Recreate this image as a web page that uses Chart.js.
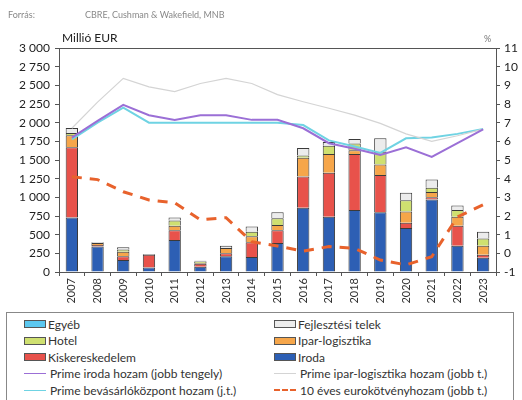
<!DOCTYPE html>
<html lang="hu">
<head>
<meta charset="UTF-8">
<title>Befektetési volumen és hozamok</title>
<script src="https://cdn.jsdelivr.net/npm/chart.js"></script>
<style>
  body { margin: 0; background: #fff; font-family: Lato, "Open Sans", sans-serif; }
  #wrap { position: relative; width: 522px; height: 400px; overflow: hidden; }
  #chart { position: absolute; left: 0; top: 0; }
  .src { position: absolute; top: 9px; font-size: 9px; color: #888; }
  #unit { position: absolute; left: 62px; top: 30px; font-size: 12px; color: #222; }
  #pct { position: absolute; left: 484px; top: 33px; font-size: 9px; color: #777; }
  #legend {
    position: absolute; left: 6px; top: 312px; width: 508px; height: 100px;
    border: 1px solid #888; box-sizing: border-box;
    display: grid; grid-template-columns: 250px 250px; grid-auto-rows: 16.5px;
    padding: 3px 0 0 17px; font-size: 12px; color: #333;
  }
  .item { display: flex; align-items: center; white-space: nowrap; }
  .sw { width: 22px; height: 8px; box-sizing: border-box; border: 1px solid #555; margin-right: 2px; }
  .ln { width: 22px; height: 0; margin-right: 4px; }
</style>
</head>
<body>
<div id="wrap">
  <canvas id="chart" width="522" height="312"></canvas>
  <div class="src" style="left:8px">Forrás:</div>
  <div class="src" style="left:85px">CBRE, Cushman &amp; Wakefield, MNB</div>
  <div id="unit">Millió EUR</div>
  <div id="pct">%</div>
  <div id="legend"></div>
</div>
<script>
// évek
const years = ['2007','2008','2009','2010','2011','2012','2013','2014','2015','2016','2017','2018','2019','2020','2021','2022','2023'];

// befektetési volumen, millió EUR (leolvasva)
const iroda        = [730, 340, 160,  60, 430,  70, 210, 200, 390, 860, 740, 830, 800, 590, 970, 350, 190];
const kisker       = [940,  20,  50, 170, 130,  40,  40, 200, 170, 420, 590, 750, 500,  70,  30, 270,  40];
const ipar         = [160,  30,  60,   0,  60,  10,  70,  80,  70, 250, 250,  50, 140, 150,  70, 120, 120];
const hotel        = [ 30,   0,  30,   0,  70,  20,   0,  60,  90,  30, 110,  90, 170, 150,  60,  90, 100];
const egyeb        = [  0,   0,   0,   0,   0,   0,   0,   0,   0,   0,   0,   0,   0,   0,   0,   0,   0];
const fejlesztesi  = [ 70,  10,  30,  10,  40,  10,  30,  70,  80, 100,  50,  60, 180, 100, 110,  60,  90];

// hozamok, % (jobb tengely)
const primeIroda   = [6.2, 7.1, 7.95, 7.4, 7.15, 7.4, 7.4, 7.15, 7.15, 6.7, 5.9, 5.6, 5.27, 5.68, 5.17, 5.9, 6.64];
const primeIpar    = [6.7, 8.1, 9.37, 8.92, 8.66, 9.1, 9.37, 9.1, 8.5, 8.12, 7.77, 7.4, 6.96, 6.4, 6.0, 6.3, 6.65];
const primeBevas   = [6.1, 7.0, 7.8, 7.0, 7.0, 7.0, 7.0, 7.0, 7.0, 6.87, 6.05, 5.72, 5.38, 6.16, 6.2, 6.4, 6.66];
const euroKotveny  = [4.1, 3.95, 3.3, 2.86, 2.71, 1.8, 1.91, 0.62, 0.39, 0.12, 0.36, 0.27, -0.36, -0.62, -0.18, 1.95, 2.6];

const leftTicks = [0, 250, 500, 750, 1000, 1250, 1500, 1750, 2000, 2250, 2500, 2750, 3000];

function fmt(v) {
    if (v >= 1000) return Math.floor(v / 1000) + ' ' + String(v % 1000).padStart(3, '0');
    return String(v);
}

function bar(label, data, color) {
    return { type: 'bar', label: label, data: data, backgroundColor: color,
             borderColor: '#3a3a3a', borderWidth: 1, yAxisID: 'y', order: 2,
             categoryPercentage: 1, barPercentage: 0.48 };
}
function line(label, data, color, width, dash) {
    return { type: 'line', label: label, data: data, borderColor: color, backgroundColor: color,
             borderWidth: width, borderDash: dash || [], pointRadius: 0, tension: 0,
             yAxisID: 'y1', order: 1, fill: false };
}

const datasets = [
    bar('Iroda', iroda, '#2d5fb4'),
    bar('Kiskereskedelem', kisker, '#e8524b'),
    bar('Ipar-logisztika', ipar, '#f6a64a'),
    bar('Hotel', hotel, '#cfe070'),
    bar('Egyéb', egyeb, '#5cc8f0'),
    bar('Fejlesztési telek', fejlesztesi, '#ececec'),
    line('Prime iroda hozam (jobb tengely)', primeIroda, '#9b6fd6', 2),
    line('Prime ipar-logisztika hozam (jobb t.)', primeIpar, '#d4d4d4', 1.2),
    line('Prime bevásárlóközpont hozam (j.t.)', primeBevas, '#6fd3e3', 2),
    line('10 éves eurokötvényhozam (jobb t.)', euroKotveny, '#e8622c', 3, [10, 8])
];

const frame = {
    id: 'frame',
    afterDatasetsDraw(chart) {
        const a = chart.chartArea, c = chart.ctx;
        c.save();
        c.strokeStyle = '#555';
        c.lineWidth = 1;
        c.beginPath();
        c.moveTo(a.left, a.top + 0.5);
        c.lineTo(a.right, a.top + 0.5);
        c.stroke();
        c.restore();
    }
};

const chart = new Chart(document.getElementById('chart'), {
    data: { labels: years, datasets: datasets },
    options: {
        responsive: false,
        animation: false,
        layout: { padding: { top: 48, right: 0, left: 0, bottom: 0 } },
        plugins: { legend: { display: false }, tooltip: { enabled: false } },
        scales: {
            x: {
                stacked: true,
                grid: { display: true, drawOnChartArea: false, offset: true, tickLength: 4, color: '#555' },
                border: { color: '#555' },
                ticks: { maxRotation: 90, minRotation: 90, padding: 2, color: '#333',
                         font: { family: 'Lato', size: 11 } },
                afterFit: s => { s.height = 40; }
            },
            y: {
                stacked: true, min: 0, max: 3000,
                afterBuildTicks: s => { s.ticks = leftTicks.map(v => ({ value: v })); },
                grid: { drawOnChartArea: false, tickLength: 4, color: '#555' },
                border: { color: '#555' },
                ticks: { padding: 5, color: '#222', font: { family: 'Lato', size: 12 }, callback: v => fmt(v) },
                afterFit: s => { s.width = 59; }
            },
            y1: {
                position: 'right', min: -1, max: 11,
                ticks: { stepSize: 1, padding: 4, color: '#222', font: { family: 'Lato', size: 12 } },
                grid: { drawOnChartArea: false, tickLength: 4, color: '#555' },
                border: { color: '#555' },
                afterFit: s => { s.width = 26; }
            }
        }
    },
    plugins: [frame]
});

// jelmagyarázat két oszlopban, az eredeti sorrendben
const legendOrder = ['Egyéb', 'Fejlesztési telek', 'Hotel', 'Ipar-logisztika', 'Kiskereskedelem', 'Iroda',
    'Prime iroda hozam (jobb tengely)', 'Prime ipar-logisztika hozam (jobb t.)',
    'Prime bevásárlóközpont hozam (j.t.)', '10 éves eurokötvényhozam (jobb t.)'];
const legend = document.getElementById('legend');
legendOrder.forEach(name => {
    const ds = chart.data.datasets.find(d => d.label === name);
    const item = document.createElement('div');
    item.className = 'item';
    let sw;
    if (ds.type === 'bar') {
        sw = `<span class="sw" style="background:${ds.backgroundColor}"></span>`;
    } else {
        const style = ds.borderDash.length ? 'dashed' : 'solid';
        sw = `<span class="ln" style="border-top:${Math.max(1, ds.borderWidth - 0.5)}px ${style} ${ds.borderColor}"></span>`;
    }
    item.innerHTML = sw + '<span>' + name + '</span>';
    legend.appendChild(item);
});
</script>
</body>
</html>
